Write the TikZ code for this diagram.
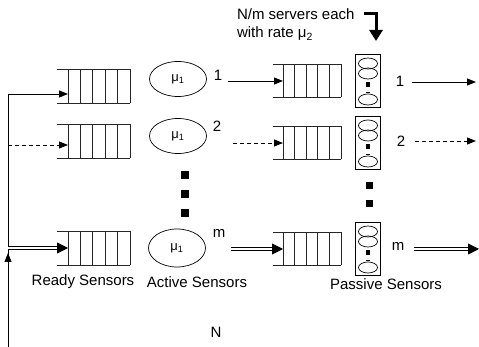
\documentclass[tikz,border=0pt]{standalone}
\usepackage{fontspec}
\setmainfont{Liberation Sans}
\usetikzlibrary{arrows.meta,shapes.geometric}
\begin{document}
\begin{tikzpicture}[x=1pt,y=-1pt,
  every node/.style={font=\fontsize{15}{18}\selectfont, inner sep=0pt, outer sep=0pt},
  rq/.style={minimum width=73pt, minimum height=34pt, anchor=west},
  pq/.style={minimum width=68pt, minimum height=33pt, anchor=west},
  active/.style={draw, ellipse, line width=0.7pt, minimum width=57pt, minimum height=35pt, font=\fontsize{13}{15}\selectfont},
  srv/.style={draw, line width=0.8pt, minimum width=25pt, minimum height=53pt},
  qline/.style={line width=0.8pt, draw=black!85},
  arr/.style={line width=0.9pt, -{Triangle[length=9pt,width=7pt]}},
  darr/.style={line width=0.8pt, dash pattern=on 4pt off 3pt, -{Triangle[length=9pt,width=7pt]}},
  dbl/.style={double, double distance=2pt, line width=0.9pt, -{Triangle[length=11pt,width=11pt]}},
  sq/.style={fill=black, minimum size=8pt},
  lbl/.style={font=\fontsize{15}{18}\selectfont}
]
\useasboundingbox (0,0) rectangle (479,347);

% ready queues
\node[rq] (r1) at (57,86) {};
\node[rq] (r2) at (57,141) {};
\node[rq] (rm) at (57,248) {};
% passive queues
\node[pq] (q1) at (273,81) {};
\node[pq] (q2) at (273,143) {};
\node[pq] (qm) at (273,249) {};
\foreach \q in {r1,r2,rm} {
  \draw[qline] (\q.north west) -- (\q.north east) (\q.south west) -- (\q.south east);
  \foreach \i in {0,...,5}
    \draw[qline] ([xshift={11pt+12.4pt*\i}]\q.north west) -- ([xshift={11pt+12.4pt*\i}]\q.south west);
}
\foreach \q in {q1,q2,qm} {
  \draw[qline] (\q.north west) -- (\q.north east) (\q.south west) -- (\q.south east);
  \foreach \i in {0,...,5}
    \draw[qline] ([xshift={10pt+11.6pt*\i}]\q.north west) -- ([xshift={10pt+11.6pt*\i}]\q.south west);
}

% active sensors
\node[active] (a1) at (178,79) {μ\textsubscript{1}};
\node[active] (a2) at (178,136) {μ\textsubscript{1}};
\node[active, minimum height=38pt] (am) at (177,248) {μ\textsubscript{1}};
\node[lbl] (l1) at (218,75) {1};
\node[lbl] (l2) at (217,126) {2};
\node[lbl] (lm) at (219,233) {m};
\node[sq] (ad1) at (185,175) {};
\node[sq] (ad2) at (185,194) {};
\node[sq] (ad3) at (185,213) {};

% passive servers
\foreach \n/\y in {p1/81, p2/143, pm/249} {
  \node[srv] (\n) at (368,\y) {};
  \draw[line width=0.7pt] ([yshift=-9pt]\n.north) ellipse [x radius=9.5pt, y radius=5.5pt];
  \draw[line width=0.7pt] ([yshift=-19pt]\n.north) ellipse [x radius=9.5pt, y radius=5.5pt];
  \fill ([yshift=-30pt]\n.north) ++(-2.2pt,-2.2pt) rectangle ++(4.4pt,4.4pt);
  \fill ([yshift=-38pt]\n.north) ++(-2pt,-0.8pt) rectangle ++(4pt,1.6pt);
  \draw[line width=0.7pt] ([yshift=-45pt]\n.north) ellipse [x radius=9.5pt, y radius=5.5pt];
}
\node[sq, minimum size=7pt] (pd1) at (369,186) {};
\node[sq, minimum size=7pt] (pd2) at (369,204) {};
\node[lbl] (o1) at (400,81) {1};
\node[lbl] (o2) at (401,141) {2};
\node[lbl] (om) at (398,246) {m};
\coordinate (e1) at (476,82);
\coordinate (e2) at (476,141);
\coordinate (em) at (479,249);

% feedback loop
\coordinate (fb) at (8,347);
\coordinate (fbtop) at (8,94);
\coordinate (fb2) at (8,145);
\coordinate (fbm) at (8,248);
\coordinate (fbarr) at (8,253);
\draw[arr] (fb) -- (fbtop) -- ([xshift=11pt]r1.west |- fbtop);
\draw[line width=0.9pt, -{Triangle[length=9pt,width=7pt]}] (fb) -- (fbarr);
\draw[darr] (fb2) -- ([xshift=11pt]r2.west |- fb2);
\draw[dbl] (fbm) -- ([xshift=11pt]rm.west);

% active -> passive
\draw[arr] ([xshift=6pt]l1.east |- q1.west) -- ([xshift=10pt]q1.west);
\draw[darr] ([xshift=12pt]l2.east |- q2.west) -- ([xshift=10pt]q2.west);
\draw[dbl] ([xshift=6pt]lm.east |- qm.west) -- ([xshift=10pt]qm.west);

% outputs
\draw[arr] ([xshift=8pt]o1.east |- e1) -- (e1);
\draw[darr] ([xshift=10pt]o2.east) -- (e2);
\draw[dbl] ([xshift=10pt]om.east |- em) -- (em);

% labels
\node[lbl] (lr) at (83,282) {Ready Sensors};
\node[lbl] (la) at (197,282) {Active Sensors};
\node[lbl] (lp) at (386,284) {Passive Sensors};
\node[lbl] (ln) at (216,332) {N};
\node[lbl, align=left, anchor=north west] (ann) at (237,9) {N/m servers each\\with rate μ\textsubscript{2}};
\coordinate (b0) at (364,14);
\coordinate (b1) at (376,41);
\draw[line width=3pt, -{Triangle[length=11pt,width=13pt]}] (b0) -| (b1);
\end{tikzpicture}
\end{document}
